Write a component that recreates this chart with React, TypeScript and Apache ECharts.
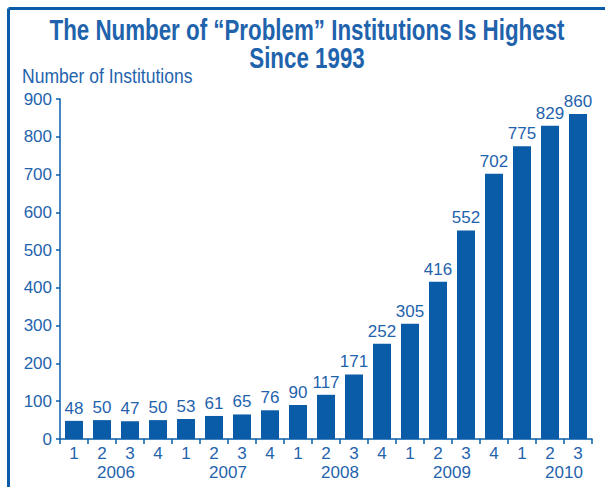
import React, { useEffect, useRef } from "react";
import * as echarts from "echarts";

const quarters = ["1","2","3","4","1","2","3","4","1","2","3","4","1","2","3","4","1","2","3"];
const years = ["2006", "2007", "2008", "2009", "2010"];
const yearPositions = [2, 6, 10, 14, 18];
const problemInstitutions = [48, 50, 47, 50, 53, 61, 65, 76, 90, 117, 171, 252, 305, 416, 552, 702, 775, 829, 860];
const titleLines = ["The Number of “Problem” Institutions Is Highest", "Since 1993"];
const yAxisTitle = "Number of Institutions";

const BLUE = "#0a5ca9";
const TEXT = "#1f63ad";
const FONT = "'Liberation Sans', Arial, Helvetica, sans-serif";

export default function App() {
  const ref = useRef<HTMLDivElement>(null);
  useEffect(() => {
    document.body.style.margin = "0";
    const chart = echarts.init(ref.current!, null, { renderer: "svg" });
    chart.setOption({
      animation: false,
      backgroundColor: "#ffffff",
      textStyle: { fontFamily: FONT },
      graphic: [
        { type: "line", shape: { x1: 8.5, y1: 8.5, x2: 605, y2: 8.5 }, style: { stroke: BLUE, lineWidth: 3 } },
        { type: "line", shape: { x1: 8.5, y1: 8.5, x2: 8.5, y2: 487 }, style: { stroke: BLUE, lineWidth: 3 } },
        {
          type: "text",
          x: 307,
          y: 29.5,
          scaleX: 0.745,
          style: {
            text: titleLines[0],
            font: `bold 30px ${FONT}`,
            fill: TEXT,
            align: "center",
            verticalAlign: "middle",
          },
        },
        {
          type: "text",
          x: 307,
          y: 58,
          scaleX: 0.745,
          style: {
            text: titleLines[1],
            font: `bold 30px ${FONT}`,
            fill: TEXT,
            align: "center",
            verticalAlign: "middle",
          },
        },
        {
          type: "text",
          x: 22,
          y: 75.5,
          scaleX: 0.835,
          style: {
            text: yAxisTitle,
            font: `21px ${FONT}`,
            fill: TEXT,
            align: "left",
            verticalAlign: "middle",
          },
        },
      ],
      grid: { left: 60, right: 13, top: 99, bottom: 48, containLabel: false },
      xAxis: [
        {
          type: "category",
          data: quarters,
          axisLine: { lineStyle: { color: BLUE, width: 1.5 } },
          axisTick: { show: true, length: 5, lineStyle: { color: BLUE, width: 1.5 } },
          axisLabel: { color: TEXT, fontSize: 17, fontFamily: FONT, margin: 6, interval: 0, lineHeight: 16 },
        },
        {
          type: "value",
          position: "bottom",
          min: 0,
          max: 19,
          interval: 2,
          axisLine: { show: false },
          axisTick: { show: false },
          splitLine: { show: false },
          axisLabel: {
            color: TEXT,
            fontSize: 17,
            fontFamily: FONT,
            margin: 25,
            lineHeight: 16,
            showMinLabel: true,
            showMaxLabel: false,
            formatter: (v: number) => {
              const i = yearPositions.indexOf(Math.round(v));
              return i >= 0 ? years[i] : "";
            },
          },
        },
      ],
      yAxis: {
        type: "value",
        min: 0,
        max: 900,
        interval: 100,
        axisLine: { show: true, lineStyle: { color: BLUE, width: 1.5 } },
        axisTick: { show: true, length: 4, lineStyle: { color: BLUE, width: 1.5 } },
        splitLine: { show: false },
        axisLabel: { color: TEXT, fontSize: 17, fontFamily: FONT, margin: 8 },
      },
      series: [
        {
          type: "bar",
          data: problemInstitutions,
          xAxisIndex: 0,
          barWidth: 18,
          itemStyle: { color: BLUE },
          label: {
            show: true,
            position: "top",
            distance: 4,
            color: TEXT,
            fontSize: 17,
            fontFamily: FONT,
          },
        },
      ],
    });
    return () => chart.dispose();
  }, []);
  return <div ref={ref} style={{ width: 605, height: 487, position: "absolute", left: 0, top: 0 }} />;
}
